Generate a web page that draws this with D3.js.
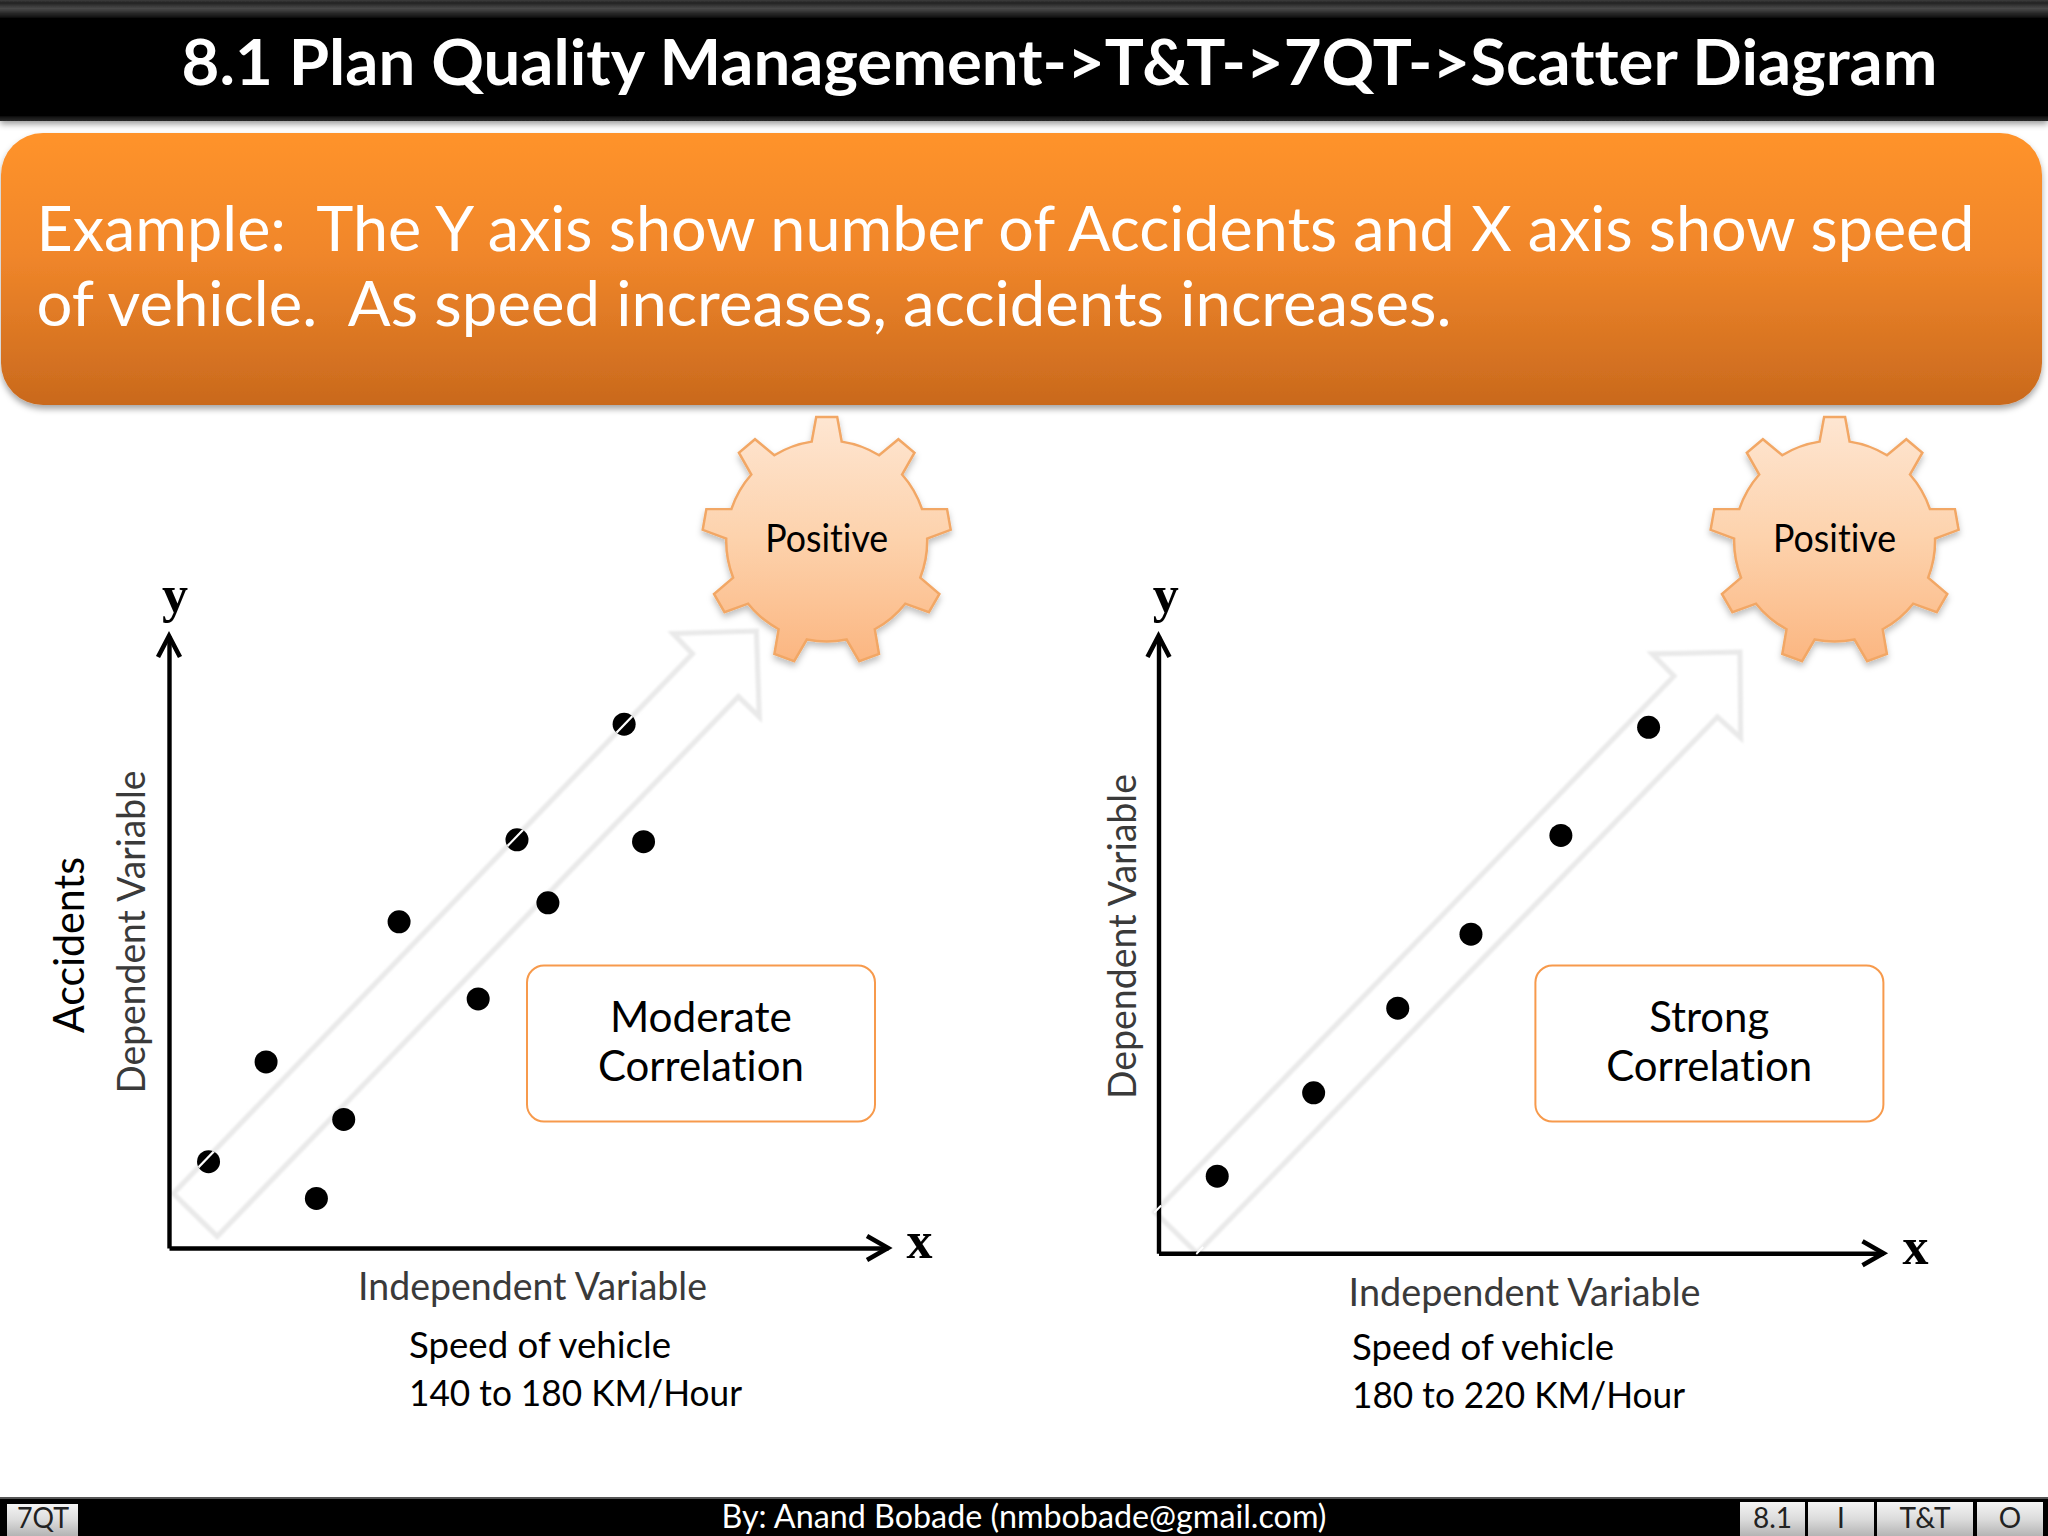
<![CDATA[<!DOCTYPE html>
<html><head><meta charset="utf-8">
<script src="https://cdn.jsdelivr.net/npm/d3@7/dist/d3.min.js"></script>
<style>html,body{margin:0;padding:0;background:#fff}svg{display:block}text{font-family:Lato,"Open Sans",sans-serif;font-variant-ligatures:none;font-feature-settings:"liga" 0,"dlig" 0}</style>
</head><body><div id="c"></div>
<script>
// ---- data (values are percent of each axis, read from the picture) ----
const moderateX=[5.5,13.5,24.3,20.5,32.0,43.0,48.4,52.7,63.3,66.0];
const moderateY=[14.1,30.4,21.0,8.1,53.3,40.7,66.7,56.4,85.6,66.4];
const strongX=[8.1,21.4,33.0,43.1,55.5,67.6];
const strongY=[12.5,26.0,39.7,51.7,67.7,85.2];
const moderateArrowX=[0.6,6.7,79.2,82.1,81.7,70.1,72.8];
const moderateArrowY=[8.9,1.9,90.1,86.8,100.8,100.4,97.1];
const strongArrowX=[-0.5,5.3,77.1,80.3,80.2,68.1,71.1];
const strongArrowY=[6.7,0,86.9,83.5,97.4,97.1,93.5];
const titleText="8.1 Plan Quality Management->T&T->7QT->Scatter Diagram";
const bannerLines=["Example:  The Y axis show number of Accidents and X axis show speed","of vehicle.  As speed increases, accidents increases."];
const footerText="By: Anand Bobade (nmbobade@gmail.com)";
const footerTabs=["8.1","I","T&T","O"];
const footerLeft="7QT";

const W=2048,H=1536;
const svg=d3.select("#c").append("svg").attr("width",W).attr("height",H).attr("viewBox",`0 0 ${W} ${H}`);
const defs=svg.append("defs");
function grad(id,stops){const g=defs.append("linearGradient").attr("id",id).attr("x1",0).attr("y1",0).attr("x2",0).attr("y2",1);
  stops.forEach(s=>g.append("stop").attr("offset",s[0]).attr("stop-color",s[1]));}
grad("org",[[0,"#ff932b"],[0.45,"#f0862a"],[1,"#c9691d"]]);
grad("gear",[[0,"#fee6d2"],[0.5,"#fdd2ac"],[1,"#fbb681"]]);
grad("tab",[[0,"#f4f4f4"],[0.5,"#dcdcdc"],[1,"#b4b4b4"]]);
grad("hdr",[[0,"#3c3c3c"],[0.025,"#222"],[0.07,"#4a4a4a"],[0.16,"#000"],[0.95,"#000"],[1,"#2c2c2c"]]);
const sh=(id,dy,b,o)=>defs.append("filter").attr("id",id).attr("x","-5%").attr("y","-10%").attr("width","110%").attr("height","125%")
  .append("feDropShadow").attr("dx",0).attr("dy",dy).attr("stdDeviation",b).attr("flood-color","#000").attr("flood-opacity",o);
sh("s1",3,3,0.4); sh("s2",4,3,0.35); sh("s3",4,3,0.25);
defs.append("filter").attr("id","soft").attr("x","-5%").attr("y","-5%").attr("width","110%").attr("height","110%")
  .append("feGaussianBlur").attr("stdDeviation",0.8);

function label(g,str,x,y,size,o={}){
  const t=g.append("text").attr("x",x).attr("y",y).attr("font-size",size).attr("fill",o.fill||"#000")
   .attr("text-anchor",o.anchor||"start").attr("font-weight",o.weight||400).style("white-space","pre").text(str);
  if(o.len) t.attr("textLength",o.len).attr("lengthAdjust","spacingAndGlyphs");
  if(o.family) t.style("font-family",o.family);
  if(o.rotate) t.attr("transform",`rotate(${o.rotate} ${x} ${y})`);
  return t;
}

// header
svg.append("rect").attr("x",0).attr("y",0).attr("width",W).attr("height",121).attr("fill","url(#hdr)").attr("filter","url(#s1)");
label(svg,titleText,181.5,85,64,{fill:"#fff",weight:700,len:1756});

// banner
svg.append("rect").attr("x",1).attr("y",133).attr("width",2041).attr("height",272).attr("rx",42).attr("fill","url(#org)").attr("filter","url(#s2)");
label(svg,bannerLines[0],36.5,251,61,{fill:"#fff",len:1938});
label(svg,bannerLines[1],36.5,325.5,61,{fill:"#fff",len:1415});

// gear
function gearPath(){
  const n=9,ro=124.5,ri=100.5,ab=Math.asin(15/ri),at=Math.asin(10.5/ro);
  let d="";
  for(let i=0;i<n;i++){
    const c=i*2*Math.PI/n;
    const seq=[[c-ab,ri],[c-at,ro],[c+at,ro],[c+ab,ri]];
    seq.forEach((p,k)=>{const x=p[1]*Math.sin(p[0]),y=-p[1]*Math.cos(p[0]);
      d+=(i===0&&k===0?"M":(k===0?`A${ri} ${ri} 0 0 1 `:"L"))+x.toFixed(2)+" "+y.toFixed(2);});
  }
  const x0=ri*Math.sin(-ab),y0=-ri*Math.cos(-ab);
  return d+`A${ri} ${ri} 0 0 1 ${x0.toFixed(2)} ${y0.toFixed(2)}Z`;
}

const panels=[
 {xs:moderateX,ys:moderateY,ax:moderateArrowX,ay:moderateArrowY,xr:[169,888],yr:[1248,636],slash:true,
  gear:[826.7,541],box:[527,965.5,348,156],lines:["Moderate","Correlation"],bx:700.9,
  acc:true,dep:[145,932],ind:[358,1299.5,349],spd:[409,1357.5,262,1405.5,333,"140 to 180 KM/Hour"],yg:[175,612],xg:[919.6,1258]},
 {xs:strongX,ys:strongY,ax:strongArrowX,ay:strongArrowY,xr:[1158.5,1883.5],yr:[1253.3,636],slash:false,
  gear:[1834.6,541],box:[1535.4,965.5,348,156],lines:["Strong","Correlation"],bx:1709.2,
  acc:false,dep:[1136,936.5],ind:[1348.6,1306,352],spd:[1352,1360,262,1408,333,"180 to 220 KM/Hour"],yg:[1165.7,612],xg:[1915.6,1264]}
];
panels.forEach((p,pi)=>{
  const g=svg.append("g");
  const x=d3.scaleLinear().domain([0,100]).range(p.xr), y=d3.scaleLinear().domain([0,100]).range(p.yr);
  // big translucent arrow
  const apts=p.ax.map((v,i)=>[x(v),y(p.ay[i])]);
  g.append("path").attr("d",d3.line()(apts)+"Z").attr("fill","none").attr("stroke","#e9e9e9").attr("stroke-width",5).attr("stroke-linejoin","miter").attr("filter","url(#soft)");
  // axes
  g.append("g").attr("transform",`translate(0,${p.yr[0]})`).call(d3.axisBottom(x).tickValues([]).tickSize(0));
  g.append("g").attr("transform",`translate(${p.xr[0]},0)`).call(d3.axisLeft(y).tickValues([]).tickSize(0));
  g.selectAll(".domain").attr("stroke","#000").attr("stroke-width",4.4);
  g.append("path").attr("d",`M${p.xr[1]-21} ${p.yr[0]-12}L${p.xr[1]} ${p.yr[0]}L${p.xr[1]-21} ${p.yr[0]+12}`).attr("fill","none").attr("stroke","#000").attr("stroke-width",4.6);
  g.append("path").attr("d",`M${p.xr[0]-11} ${p.yr[1]+21}L${p.xr[0]} ${p.yr[1]}L${p.xr[0]+11} ${p.yr[1]+21}`).attr("fill","none").attr("stroke","#000").attr("stroke-width",4.6);
  // points
  g.selectAll("circle.pt").data(p.xs).join("circle").attr("class","pt").attr("cx",d=>x(d)).attr("cy",(d,i)=>y(p.ys[i])).attr("r",11.5).attr("fill","#000");
  if(p.slash){
    const cp=defs.append("clipPath").attr("id","dots"+pi);
    cp.selectAll("circle").data(p.xs).join("circle").attr("cx",d=>x(d)).attr("cy",(d,i)=>y(p.ys[i])).attr("r",11.5);
    g.append("line").attr("x1",apts[0][0]).attr("y1",apts[0][1]).attr("x2",apts[6][0]).attr("y2",apts[6][1])
      .attr("stroke","#fff").attr("stroke-width",2.2).attr("clip-path",`url(#dots${pi})`);
  } else {
    // white nicks where the arrow's tail crosses the axes
    const near=(a,b)=>d3.interpolate(a,b)(0.012);
    const nick=(c,a,b)=>g.append("path").attr("d",d3.line()([near(c,a),c,near(c,b)])).attr("fill","none").attr("stroke","#fff").attr("stroke-width",2);
    nick(apts[0],apts[6],apts[1]); nick(apts[1],apts[0],apts[2]);
  }
  // gear
  const gg=g.append("g").attr("transform",`translate(${p.gear[0]},${p.gear[1]})`);
  gg.append("path").attr("d",gearPath()).attr("fill","url(#gear)").attr("stroke","#f2a765").attr("stroke-width",2.5).attr("filter","url(#s3)");
  label(gg,"Positive",0,11,38,{anchor:"middle",len:123});
  // box
  g.append("rect").attr("x",p.box[0]).attr("y",p.box[1]).attr("width",p.box[2]).attr("height",p.box[3]).attr("rx",17).attr("fill","#fff").attr("stroke","#f79a4c").attr("stroke-width",2);
  label(g,p.lines[0],p.bx,1032,42,{anchor:"middle",len:pi===0?182:120});
  label(g,p.lines[1],p.bx,1081,42,{anchor:"middle",len:206});
  // texts
  if(p.acc) label(g,"Accidents",84,945,42,{anchor:"middle",rotate:-90,len:176});
  label(g,"Dependent Variable",p.dep[0],p.dep[1],38,{anchor:"middle",rotate:-90,len:pi===0?323:325,fill:"#3a3a3a"});
  label(g,"Independent Variable",p.ind[0],p.ind[1],38,{len:p.ind[2],fill:"#3a3a3a"});
  label(g,"Speed of vehicle",p.spd[0],p.spd[1],37,{len:p.spd[2]});
  label(g,p.spd[5],p.spd[0],p.spd[3],37,{len:p.spd[4]});
  label(g,"y",p.yg[0],p.yg[1],52,{anchor:"middle",weight:700,family:"'Liberation Serif',serif"});
  label(g,"x",p.xg[0],p.xg[1],52,{anchor:"middle",weight:700,family:"'Liberation Serif',serif"});
});

// footer
svg.append("rect").attr("x",0).attr("y",1497).attr("width",W).attr("height",39).attr("fill","#000");
svg.append("rect").attr("x",0).attr("y",1497).attr("width",W).attr("height",2).attr("fill","#555");
svg.append("rect").attr("x",7).attr("y",1504).attr("width",71).attr("height",32).attr("fill","url(#tab)");
label(svg,footerLeft,43,1528,29,{anchor:"middle",fill:"#222",len:52});
label(svg,footerText,1024,1528,32,{anchor:"middle",fill:"#fff",len:605});
const tabEdges=[[1740,1805],[1808,1874],[1877,1973],[1977,2043]];
tabEdges.forEach((e,i)=>{
  svg.append("rect").attr("x",e[0]).attr("y",1502).attr("width",e[1]-e[0]).attr("height",34).attr("fill","url(#tab)");
  label(svg,footerTabs[i],(e[0]+e[1])/2,1528,28,{anchor:"middle",fill:"#222"});
});
</script></body></html>]]>
